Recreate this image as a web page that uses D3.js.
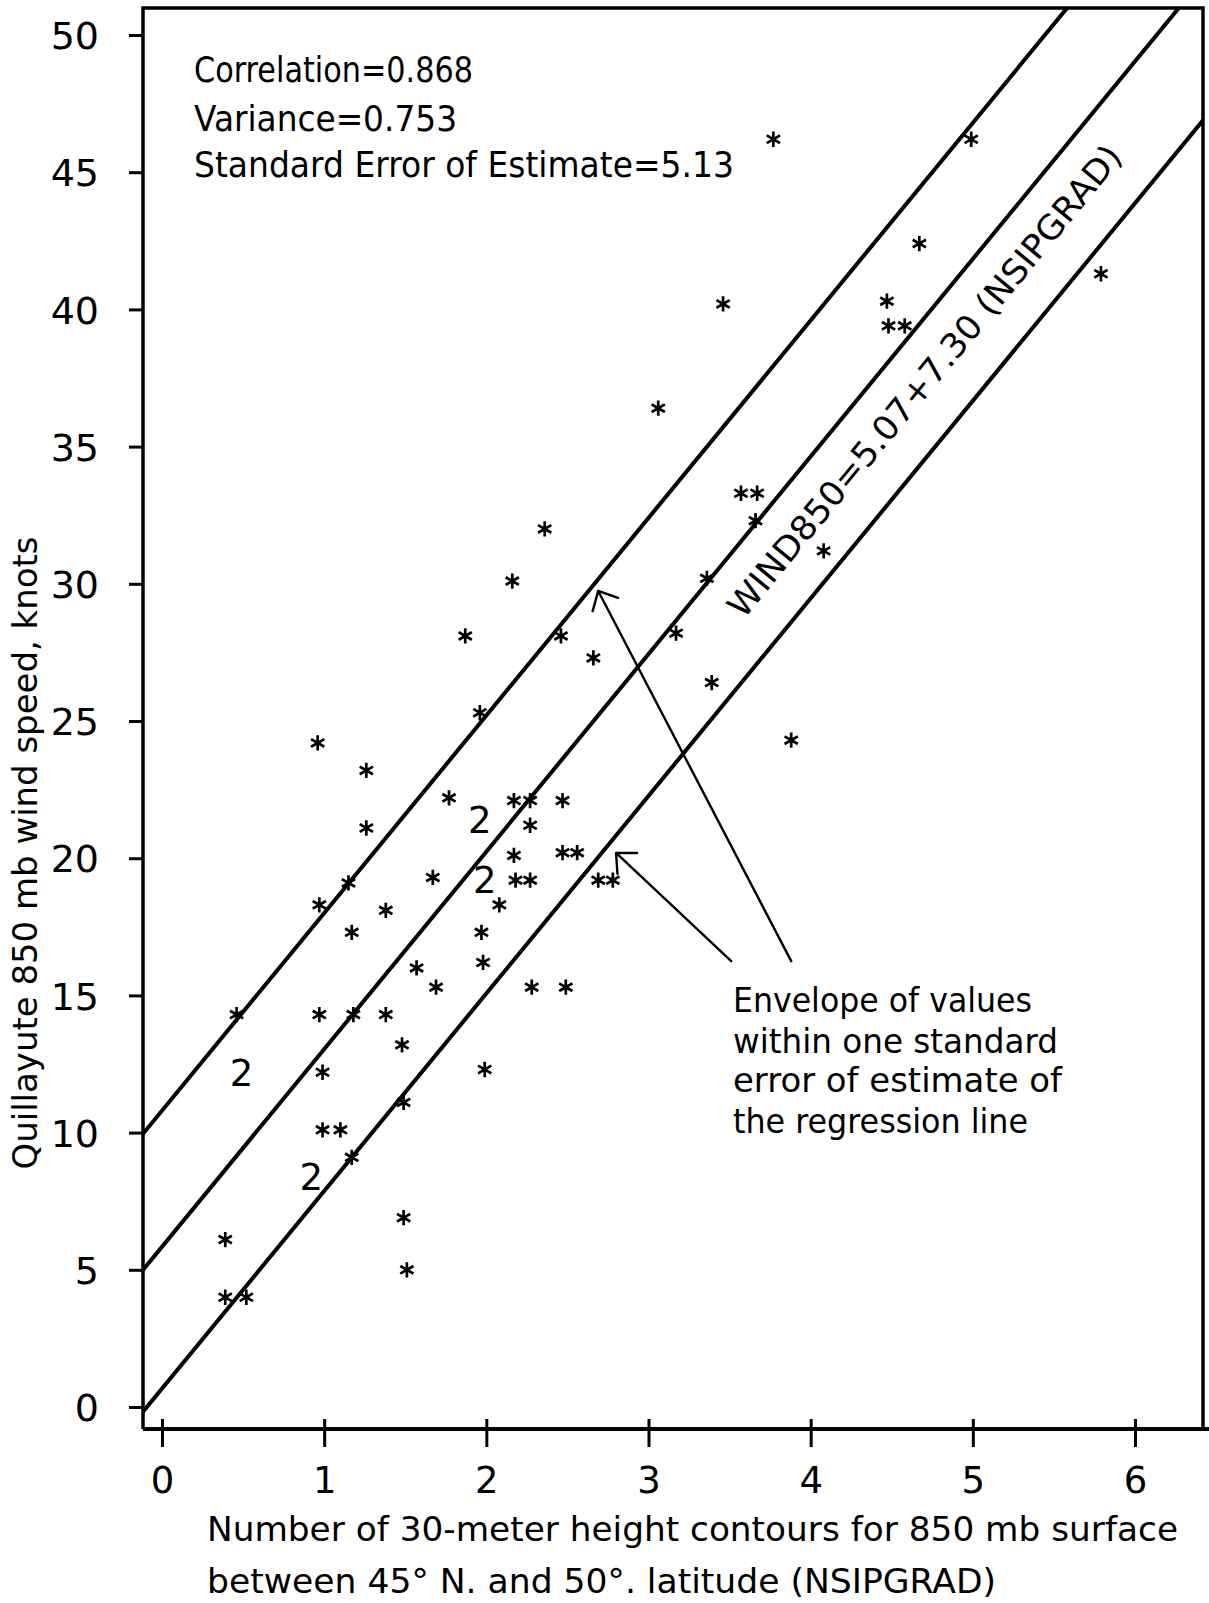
<!DOCTYPE html>
<html><head><meta charset="utf-8">
<script src="https://cdn.jsdelivr.net/npm/d3@7"></script>
<style>body{margin:0;background:#fff}svg{display:block}</style>
</head><body>
<svg id="chart" width="1209" height="1603"></svg>
<script>
// ---- data ----
const yTicks = [0,5,10,15,20,25,30,35,40,45,50];
const xTicks = [0,1,2,3,4,5,6];

// single observations printed as "*"
const starX = [3.77,4.99,4.67,3.46,4.47,4.48,4.58,5.79,3.06,3.57,3.67,3.66,2.36,4.08,2.16,3.36,
  1.87,2.46,3.17,2.66,3.39,1.96,0.96,3.88,1.26,1.77,2.17,2.27,2.47,2.27,1.26,2.17,2.47,2.56,
  1.15,1.67,2.18,2.27,2.69,2.78,0.97,1.38,2.08,1.17,1.97,1.57,1.98,1.69,2.28,2.49,
  0.46,0.97,1.18,1.38,1.48,0.99,1.99,1.49,0.99,1.10,1.17,0.39,1.49,0.39,0.52,1.51];
const starY = [46.2,46.2,42.4,40.2,40.3,39.4,39.4,41.3,36.4,33.3,33.3,32.3,32.0,31.2,30.1,30.2,
  28.1,28.1,28.2,27.3,26.4,25.3,24.2,24.3,23.2,22.2,22.1,22.1,22.1,21.2,21.1,20.1,20.2,20.2,
  19.1,19.3,19.2,19.2,19.2,19.2,18.3,18.1,18.3,17.3,17.3,16.0,16.2,15.3,15.3,15.3,
  14.3,14.3,14.3,14.3,13.2,12.2,12.3,11.1,10.1,10.1,9.1,6.1,6.9,4.0,4.0,5.0];

// coincident pairs printed as "2"
const twoX = [1.96,1.99,0.49,0.92];
const twoY = [21.4,19.2,12.2,8.4];

// hand-drawn lines: regression line and the +/- one standard error envelope
const lineNames = ["upper envelope","regression","lower envelope"];
const lineIntercepts = [10.8,5.84,0.67];
const lineSlopes = [7.2,7.2,7.2];

const statsLines = ["Correlation=0.868","Variance=0.753","Standard Error of Estimate=5.13"];
const equationLabel = "WIND850=5.07+7.30 (NSIPGRAD)";
const envelopeLines = ["Envelope of values","within one standard","error of estimate of","the regression line"];
const yTitle = "Quillayute 850 mb wind speed, knots";
const xTitleLines = ["Number of 30-meter height contours for 850 mb surface","between 45\u00B0 N. and 50\u00B0. latitude (NSIPGRAD)"];

// arrows: tail and tip in data units
const arrowTailX = [3.88,3.51];
const arrowTailY = [16.25,16.25];
const arrowTipX = [2.69,2.80];
const arrowTipY = [29.74,20.19];

// ---- drawing ----
const FONT = "DejaVu Sans, Liberation Sans, sans-serif";
const svg = d3.select("#chart");
const x = d3.scaleLinear().domain([0,6]).range([162,1135]);
const y = d3.scaleLinear().domain([0,50]).range([1407,35]);

const L = 143, T = 8, R = 1203, B = 1429;

svg.append("defs").append("clipPath").attr("id","plot")
  .append("rect").attr("x",L).attr("y",T).attr("width",R-L).attr("height",B-T);

// frame
svg.append("path")
  .attr("d",`M${L},${B}V${T}H${R}V${B}`)
  .attr("fill","none").attr("stroke","#000").attr("stroke-width",3.5);
svg.append("line").attr("x1",L).attr("x2",1209).attr("y1",B).attr("y2",B)
  .attr("stroke","#000").attr("stroke-width",4);

// y axis
const gy = svg.append("g").attr("transform",`translate(${L},0)`)
  .call(d3.axisLeft(y).tickValues(yTicks).tickSize(14).tickPadding(30).tickFormat(d3.format("d")));
gy.select(".domain").remove();
gy.selectAll(".tick line").attr("stroke-width",3);
gy.selectAll(".tick text").attr("font-family",FONT).attr("font-size",38).attr("fill","#000")
  .attr("dy","0.36em");

// x axis
const gx = svg.append("g").attr("transform",`translate(0,${B})`)
  .call(d3.axisBottom(x).tickValues(xTicks).tickSize(18).tickFormat(d3.format("d")));
gx.select(".domain").remove();
gx.selectAll(".tick line").attr("y1",-10).attr("y2",18).attr("stroke-width",3);
gx.selectAll(".tick text").attr("font-family",FONT).attr("font-size",37).attr("fill","#000")
  .attr("y",51).attr("dy","0.36em");

// regression lines
const xmin = x.invert(L), xmax = x.invert(R);
const plot = svg.append("g").attr("clip-path","url(#plot)");
plot.selectAll("line.reg").data(lineNames).join("line").attr("class","reg")
  .attr("x1",x(xmin)).attr("y1",(d,i)=>y(lineIntercepts[i]+lineSlopes[i]*xmin))
  .attr("x2",x(xmax)).attr("y2",(d,i)=>y(lineIntercepts[i]+lineSlopes[i]*xmax))
  .attr("stroke","#000").attr("stroke-width",4).attr("stroke-linecap","round");

// asterisks
const star = d3.symbol().type(d3.symbolAsterisk).size(165);
svg.append("g").selectAll("path").data(starX).join("path")
  .attr("transform",(d,i)=>`translate(${x(d)},${y(starY[i])})`)
  .attr("d",star).attr("fill","none").attr("stroke","#000").attr("stroke-width",2.7);

// "2" glyphs
svg.append("g").selectAll("text").data(twoX).join("text")
  .attr("x",d=>x(d)).attr("y",(d,i)=>y(twoY[i]))
  .attr("text-anchor","middle").attr("dy","0.36em")
  .attr("font-family",FONT).attr("font-size",37).text("2");

// arrows
const arrows = svg.append("g").attr("stroke","#000").attr("stroke-width",2.4).attr("fill","none")
  .attr("stroke-linecap","round").attr("stroke-linejoin","round");
arrowTailX.forEach((tx,i)=>{
  const x0 = x(tx), y0 = y(arrowTailY[i]), x1 = x(arrowTipX[i]), y1 = y(arrowTipY[i]);
  const a = Math.atan2(y0-y1, x0-x1), h = 21, s = 0.75;
  arrows.append("path").attr("d",
    `M${x0},${y0}L${x1},${y1}` +
    `M${x1+h*Math.cos(a-s)},${y1+h*Math.sin(a-s)}L${x1},${y1}L${x1+h*Math.cos(a+s)},${y1+h*Math.sin(a+s)}`);
});

// stats text
const statsBase = [82,131,177], statsLen = [279,263,540];
svg.append("g").selectAll("text").data(statsLines).join("text")
  .attr("x",194).attr("y",(d,i)=>statsBase[i])
  .attr("textLength",(d,i)=>statsLen[i]).attr("lengthAdjust","spacingAndGlyphs")
  .attr("font-family",FONT).attr("font-size",36).text(d=>d);

// equation label along the line
svg.append("text")
  .attr("transform",`translate(${x(4.70)},${y(37.4)}) rotate(-50.6)`)
  .attr("text-anchor","middle").attr("dy","0.36em")
  .attr("textLength",599).attr("lengthAdjust","spacingAndGlyphs")
  .attr("font-family",FONT).attr("font-size",34).text(equationLabel);

// envelope note
const envBase = [1012,1053,1092,1133], envLen = [299,325,329,295];
svg.append("g").selectAll("text").data(envelopeLines).join("text")
  .attr("x",733).attr("y",(d,i)=>envBase[i])
  .attr("textLength",(d,i)=>envLen[i]).attr("lengthAdjust","spacingAndGlyphs")
  .attr("font-family",FONT).attr("font-size",33).text(d=>d);

// axis titles
svg.append("text").attr("transform","translate(25,853) rotate(-90)")
  .attr("text-anchor","middle").attr("dy","0.36em")
  .attr("textLength",633).attr("lengthAdjust","spacingAndGlyphs")
  .attr("font-family",FONT).attr("font-size",33).text(yTitle);
const xtBase = [1541,1593], xtLen = [971,789];
svg.append("g").selectAll("text").data(xTitleLines).join("text")
  .attr("x",207).attr("y",(d,i)=>xtBase[i])
  .attr("textLength",(d,i)=>xtLen[i]).attr("lengthAdjust","spacingAndGlyphs")
  .attr("font-family",FONT).attr("font-size",34).text(d=>d);
</script>
</body></html>
